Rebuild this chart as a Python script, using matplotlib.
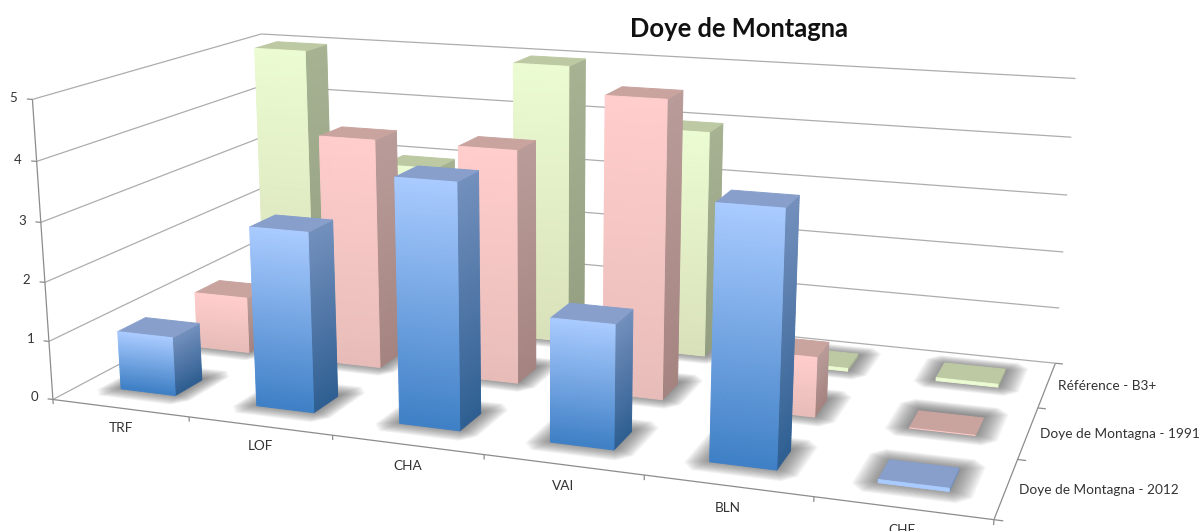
import numpy as np
import matplotlib
matplotlib.use("Agg")
import matplotlib.pyplot as plt
from mpl_toolkits.mplot3d.art3d import Poly3DCollection, Line3DCollection

plt.rcParams["font.family"] = ["Lato", "DejaVu Sans"]

categories = ["TRF", "LOF", "CHA", "VAI", "BLN", "CHF"]
series = ["Doye de Montagna - 2012", "Doye de Montagna - 1991", "Référence - B3+"]
blue_2012 = [1, 3, 4, 2, 4, 0.05]
pink_1991 = [1, 4, 4, 5, 1, 0]
green_ref = [5, 3, 5, 4, 0.05, 0.05]
z_ticks = [0, 1, 2, 3, 4, 5]

# (front top, front bottom, side top, side bottom, top face)
colors = [
    ("#a9cbff", "#3f80c6", "#7390bd", "#2f5f92", "#889fcb"),
    ("#ffcdcc", "#e8bdb9", "#b99c9a", "#a58480", "#c9a49f"),
    ("#ebfbd2", "#d9e1ba", "#a6b292", "#939f80", "#bdc9a3"),
]

# axis corners and ticks as they sit in the picture: X, Y, Z -> pixel
calib = [
    (0, 0, 0, 54, 398), (0, 0, 1, 49, 339), (0, 0, 2, 44, 281), (0, 0, 3, 41, 221),
    (0, 0, 4, 37, 160), (0, 0, 5, 33, 99), (0, 3, 5, 260, 36),
    (6, 3, 5, 1076, 79), (6, 3, 4, 1072, 138), (6, 3, 3, 1067, 195),
    (6, 3, 2, 1063, 252), (6, 3, 1, 1059, 307), (6, 3, 0, 1056, 362),
    (1, 0, 0, 189, 417), (2, 0, 0, 333, 439), (3, 0, 0, 485, 459), (4, 0, 0, 643, 480),
    (5, 0, 0, 813, 497), (6, 0, 0, 993, 517), (6, 1, 0, 1018, 457), (6, 2, 0, 1038, 407),
]


def fit_camera(pts):
    A, b = [], []
    for X, Y, Z, u, v in pts:
        A.append([X, Y, Z, 1, 0, 0, 0, 0, -u * X, -u * Y, -u * Z])
        A.append([0, 0, 0, 0, X, Y, Z, 1, -v * X, -v * Y, -v * Z])
        b += [u, v]
    p = np.linalg.lstsq(np.array(A, float), np.array(b, float), rcond=None)[0]
    return np.append(p, 1.0).reshape(3, 4)


W, H = 1204, 531
cam = fit_camera(calib)

fig = plt.figure(figsize=(W / 100, H / 100), dpi=100)
ax = fig.add_axes([0, (H - W) / 2 / H, 1, W / H], projection="3d")
ax.set_axis_off()
ax.computed_zorder = False
ax.set_xlim(0, 6); ax.set_ylim(0, 3); ax.set_zlim(0, 5)


def get_proj():
    # pixel -> display -> the 2d limits mplot3d projects into
    to_disp = np.array([[1, 0, 0], [0, -1, H], [0, 0, 1.0]])
    m = ax.transData.inverted().get_matrix() @ to_disp @ cam
    return np.array([m[0], m[1], [0, 1, 0, 0], m[2]])


ax.get_proj = get_proj


def label(X, Y, Z, s, **kw):
    u, v, w = cam @ np.array([X, Y, Z, 1.0])
    fig.text(u / w / W, 1 - v / w / H, s, va="center", color="#333333", **kw)


grid_segs, axis_segs = [], []
for t in z_ticks:
    grid_segs.append([(0, 0, t), (0, 3, t)])
    grid_segs.append([(0, 3, t), (6, 3, t)])
    axis_segs.append([(-0.04, 0, t), (0, 0, t)])
    label(-0.14, 0, t, str(t), ha="center", fontsize=9.5)
axis_segs.append([(0, 0, 0), (0, 0, 5)])
axis_segs.append([(0, 0, 0), (6, 0, 0)])
axis_segs.append([(6, 0, 0), (6, 3, 0)])
for i in range(7):
    axis_segs.append([(i, 0, -0.08), (i, 0, 0)])
for j in range(4):
    axis_segs.append([(6, j, 0), (6.05, j, 0)])
ax.add_collection3d(Line3DCollection(grid_segs, colors="#adadad", linewidths=0.9, zorder=1))
ax.add_collection3d(Line3DCollection(axis_segs, colors="#8c8c8c", linewidths=0.9, zorder=1))

for i, name in enumerate(categories):
    label(i + 0.5, 0, -0.34, name, ha="center", fontsize=9.8)
for j, name in enumerate(series):
    label(6.07, j + 0.5, 0, name, ha="left", fontsize=9.8)


def mix(a, b, n):
    a, b = np.array(matplotlib.colors.to_rgb(a)), np.array(matplotlib.colors.to_rgb(b))
    return [a + (b - a) * k / max(n - 1, 1) for k in range(n)]


def draw_bar(x0, x1, y0, y1, h, cols, order):
    # soft shadow on the floor, stacked translucent rounded rectangles
    sh = []
    for f in np.linspace(1, 0, 16):
        ex, ey = 0.14 * f, 0.2 * f
        cx, cy = ex * 0.55, ey * 0.55
        a0, a1, b0, b1 = x0 - ex, x1 + ex, y0 - ey + 0.03, y1 + ey + 0.03
        sh.append([(a0 + cx, b0, 0), (a1 - cx, b0, 0), (a1, b0 + cy, 0), (a1, b1 - cy, 0),
                   (a1 - cx, b1, 0), (a0 + cx, b1, 0), (a0, b1 - cy, 0), (a0, b0 + cy, 0)])
    ax.add_collection3d(Poly3DCollection(sh, facecolors=(0.3, 0.3, 0.3, 0.055),
                                         edgecolors="none", zorder=2 + order * 0.01))
    polys, fc = [], []
    n = max(int(h * 24), 1)
    edges = np.linspace(h, 0, n + 1)
    front = mix(cols[0], cols[1], n)
    side = mix(cols[2], cols[3], n)
    for k in range(n):
        z1, z0 = edges[k], edges[k + 1]
        polys.append([(x0, y0, z0), (x1, y0, z0), (x1, y0, z1), (x0, y0, z1)])
        fc.append(front[k])
        polys.append([(x1, y0, z0), (x1, y1, z0), (x1, y1, z1), (x1, y0, z1)])
        fc.append(side[k])
    polys.append([(x0, y0, h), (x1, y0, h), (x1, y1, h), (x0, y1, h)])
    fc.append(matplotlib.colors.to_rgb(cols[4]))
    ax.add_collection3d(Poly3DCollection(polys, facecolors=fc, edgecolors=fc, linewidths=0.7,
                                         zorder=10 + order))


bar_w, bar_d = 0.405, 0.345
order = 0
for j, vals in reversed(list(enumerate([blue_2012, pink_1991, green_ref]))):
    for i, v in enumerate(vals):
        x0 = i + 0.5 - bar_w / 2
        y0 = j + 0.34
        draw_bar(x0, x0 + bar_w, y0, y0 + bar_d, v, colors[j], order)
        order += 1

fig.text(739 / W, 1 - 29 / H, "Doye de Montagna", ha="center", va="center",
         fontsize=18.4, fontweight="bold", color="#111111")

fig.savefig("out.png", dpi=100)
print("saved out.png")
